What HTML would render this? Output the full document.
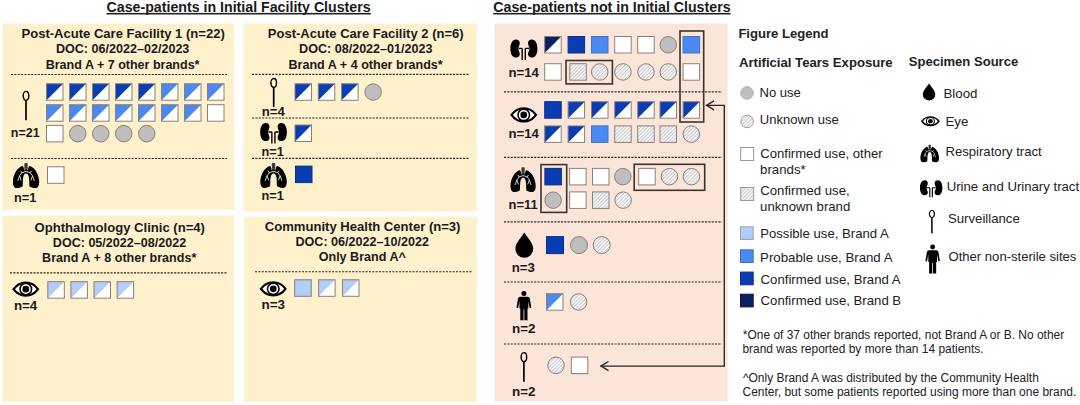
<!DOCTYPE html>
<html><head><meta charset="utf-8"><style>
html,body{margin:0;padding:0;background:#fff;width:1080px;height:405px;overflow:hidden}
svg{display:block;font-family:"Liberation Sans", sans-serif}
</style></head><body>
<svg width="1080" height="405" viewBox="0 0 1080 405">
<defs>
<pattern id="hatch" patternUnits="userSpaceOnUse" width="2.5" height="2.5" patternTransform="rotate(45)">
<rect width="2.5" height="2.5" fill="#f4f4f6"/><rect x="0" y="0" width="0.75" height="2.5" fill="#c4c4c8"/>
</pattern>
</defs>
<rect x="2.5" y="23.5" width="231.5" height="186.5" fill="#fef1cb"/>
<rect x="243.5" y="23.5" width="233.5" height="188" fill="#fef1cb"/>
<rect x="2.5" y="215.5" width="231.5" height="186.5" fill="#fef1cb"/>
<rect x="244" y="216.5" width="233" height="185.5" fill="#fef1cb"/>
<rect x="494.5" y="23.5" width="233" height="378" fill="#fbe4d8"/>
<text x="238.6" y="12.2" font-size="14.2" font-weight="bold" text-anchor="middle" fill="#1a1a1a" >Case-patients in Initial Facility Clusters</text>
<rect x="106.5" y="12.9" width="264.3" height="1.6" fill="#222"/>
<text x="611.9" y="12.2" font-size="14.2" font-weight="bold" text-anchor="middle" fill="#1a1a1a" >Case-patients not in Initial Clusters</text>
<rect x="493.3" y="12.9" width="237.3" height="1.6" fill="#222"/>
<text x="21.49" y="38.2" font-size="13" font-weight="bold" fill="#1a1a1a" textLength="203.26" lengthAdjust="spacingAndGlyphs">Post-Acute Care Facility 1 (n=22)</text>
<text x="55.92" y="53.4" font-size="13" font-weight="bold" fill="#1a1a1a" textLength="133.46" lengthAdjust="spacingAndGlyphs">DOC: 06/2022–02/2023</text>
<text x="45.72" y="68.6" font-size="13" font-weight="bold" fill="#1a1a1a" textLength="153.77" lengthAdjust="spacingAndGlyphs">Brand A + 7 other brands*</text>
<line x1="11" y1="74.5" x2="227" y2="74.5" stroke="#2c2824" stroke-width="1.15" stroke-dasharray="2.1,1.25"/>
<line x1="11" y1="158.5" x2="227" y2="158.5" stroke="#2c2824" stroke-width="1.15" stroke-dasharray="2.1,1.25"/>
<rect x="46.50" y="83.70" width="16.50" height="16.50" fill="#fff"/>
<path d="M46.50,83.70 L63.00,83.70 L46.50,100.20 Z" fill="#0a3db3"/>
<rect x="46.50" y="83.70" width="16.50" height="16.50" fill="none" stroke="#8a8078" stroke-width="1"/>
<rect x="69.50" y="83.70" width="16.50" height="16.50" fill="#fff"/>
<path d="M69.50,83.70 L86.00,83.70 L69.50,100.20 Z" fill="#0a3db3"/>
<rect x="69.50" y="83.70" width="16.50" height="16.50" fill="none" stroke="#8a8078" stroke-width="1"/>
<rect x="92.50" y="83.70" width="16.50" height="16.50" fill="#fff"/>
<path d="M92.50,83.70 L109.00,83.70 L92.50,100.20 Z" fill="#0a3db3"/>
<rect x="92.50" y="83.70" width="16.50" height="16.50" fill="none" stroke="#8a8078" stroke-width="1"/>
<rect x="115.50" y="83.70" width="16.50" height="16.50" fill="#fff"/>
<path d="M115.50,83.70 L132.00,83.70 L115.50,100.20 Z" fill="#0a3db3"/>
<rect x="115.50" y="83.70" width="16.50" height="16.50" fill="none" stroke="#8a8078" stroke-width="1"/>
<rect x="138.50" y="83.70" width="16.50" height="16.50" fill="#fff"/>
<path d="M138.50,83.70 L155.00,83.70 L138.50,100.20 Z" fill="#0a3db3"/>
<rect x="138.50" y="83.70" width="16.50" height="16.50" fill="none" stroke="#8a8078" stroke-width="1"/>
<rect x="161.50" y="83.70" width="16.50" height="16.50" fill="#fff"/>
<path d="M161.50,83.70 L178.00,83.70 L161.50,100.20 Z" fill="#4a88f2"/>
<rect x="161.50" y="83.70" width="16.50" height="16.50" fill="none" stroke="#8a8078" stroke-width="1"/>
<rect x="184.50" y="83.70" width="16.50" height="16.50" fill="#fff"/>
<path d="M184.50,83.70 L201.00,83.70 L184.50,100.20 Z" fill="#4a88f2"/>
<rect x="184.50" y="83.70" width="16.50" height="16.50" fill="none" stroke="#8a8078" stroke-width="1"/>
<rect x="207.50" y="83.70" width="16.50" height="16.50" fill="#fff"/>
<path d="M207.50,83.70 L224.00,83.70 L207.50,100.20 Z" fill="#4a88f2"/>
<rect x="207.50" y="83.70" width="16.50" height="16.50" fill="none" stroke="#8a8078" stroke-width="1"/>
<rect x="46.50" y="104.70" width="16.50" height="16.50" fill="#fff"/>
<path d="M46.50,104.70 L63.00,104.70 L46.50,121.20 Z" fill="#4a88f2"/>
<rect x="46.50" y="104.70" width="16.50" height="16.50" fill="none" stroke="#8a8078" stroke-width="1"/>
<rect x="69.50" y="104.70" width="16.50" height="16.50" fill="#fff"/>
<path d="M69.50,104.70 L86.00,104.70 L69.50,121.20 Z" fill="#4a88f2"/>
<rect x="69.50" y="104.70" width="16.50" height="16.50" fill="none" stroke="#8a8078" stroke-width="1"/>
<rect x="92.50" y="104.70" width="16.50" height="16.50" fill="#fff"/>
<path d="M92.50,104.70 L109.00,104.70 L92.50,121.20 Z" fill="#4a88f2"/>
<rect x="92.50" y="104.70" width="16.50" height="16.50" fill="none" stroke="#8a8078" stroke-width="1"/>
<rect x="115.50" y="104.70" width="16.50" height="16.50" fill="#fff"/>
<path d="M115.50,104.70 L132.00,104.70 L115.50,121.20 Z" fill="#4a88f2"/>
<rect x="115.50" y="104.70" width="16.50" height="16.50" fill="none" stroke="#8a8078" stroke-width="1"/>
<rect x="138.50" y="104.70" width="16.50" height="16.50" fill="#fff"/>
<path d="M138.50,104.70 L155.00,104.70 L138.50,121.20 Z" fill="#4a88f2"/>
<rect x="138.50" y="104.70" width="16.50" height="16.50" fill="none" stroke="#8a8078" stroke-width="1"/>
<rect x="161.50" y="104.70" width="16.50" height="16.50" fill="#fff"/>
<path d="M161.50,104.70 L178.00,104.70 L161.50,121.20 Z" fill="#4a88f2"/>
<rect x="161.50" y="104.70" width="16.50" height="16.50" fill="none" stroke="#8a8078" stroke-width="1"/>
<rect x="184.50" y="104.70" width="16.50" height="16.50" fill="#fff"/>
<path d="M184.50,104.70 L201.00,104.70 L184.50,121.20 Z" fill="#4a88f2"/>
<rect x="184.50" y="104.70" width="16.50" height="16.50" fill="none" stroke="#8a8078" stroke-width="1"/>
<rect x="207.50" y="104.70" width="16.50" height="16.50" fill="#ffffff" stroke="#8a8078" stroke-width="1"/>
<rect x="46.50" y="125.40" width="16.50" height="16.50" fill="#ffffff" stroke="#8a8078" stroke-width="1"/>
<circle cx="77.75" cy="133.65" r="8.25" fill="#bebebe" stroke="#8a8078" stroke-width="1"/>
<circle cx="100.75" cy="133.65" r="8.25" fill="#bebebe" stroke="#8a8078" stroke-width="1"/>
<circle cx="123.75" cy="133.65" r="8.25" fill="#bebebe" stroke="#8a8078" stroke-width="1"/>
<circle cx="146.75" cy="133.65" r="8.25" fill="#bebebe" stroke="#8a8078" stroke-width="1"/>
<g transform="translate(22.5,90.7) scale(1.0000,0.9933)"><ellipse cx="3.5" cy="5.2" rx="2.8" ry="4.5" fill="none" stroke="#000" stroke-width="1.4"/>
<line x1="3.5" y1="9.8" x2="3.5" y2="29.8" stroke="#000" stroke-width="1.7"/></g>
<text x="10.83" y="137" font-size="12.5" font-weight="bold" fill="#1a1a1a" textLength="28.81" lengthAdjust="spacingAndGlyphs">n=21</text>
<g transform="translate(12.9,163.2) scale(1.0115,1.0000)"><rect x="11.4" y="0" width="3.2" height="8" fill="#2a2a2a"/>
<path d="M11.4,1.8 H14.6 M11.4,3.6 H14.6 M11.4,5.4 H14.6" stroke="#777" stroke-width="0.5"/>
<path d="M13,7.2 L11.2,7.2 C10.8,5 10.4,3.2 9.6,2.8 C5,3.8 0.8,10 0.1,17 C-0.3,21.5 0.8,24.8 3.6,24.8 C6.5,24.8 8.6,24 9.4,23.2 C9.8,22.6 9.8,21.5 9.8,20 C9.8,16 10.2,12.8 11,11.6 C11.5,10.8 12.2,10.4 13,10.4 Z" fill="#000"/>
<path d="M13,7.2 L14.8,7.2 C15.2,5 15.6,3.2 16.4,2.8 C21,3.8 25.2,10 25.9,17 C26.3,21.5 25.2,24.8 22.4,24.8 C19.5,24.8 17.4,24 16.6,23.2 C16.2,22.6 16.2,21.5 16.2,20 C16.2,16 15.8,12.8 15,11.6 C14.5,10.8 13.8,10.4 13,10.4 Z" fill="#000"/>
<path d="M13,8.2 L8.8,9.6 L6.6,12.6 L4.8,17.8 M6.6,12.6 L8.2,17.2 M8.8,9.6 L7.5,7.6 M13,8.2 L17.2,9.6 L19.4,12.6 L21.2,17.8 M19.4,12.6 L17.8,17.2 M17.2,9.6 L18.5,7.6" fill="none" stroke="#fff" stroke-width="0.8"/></g>
<rect x="47.50" y="166.80" width="16.50" height="16.50" fill="#ffffff" stroke="#8a8078" stroke-width="1"/>
<text x="14.01" y="201.8" font-size="12.5" font-weight="bold" fill="#1a1a1a" textLength="22.28" lengthAdjust="spacingAndGlyphs">n=1</text>
<text x="267.79" y="38.2" font-size="13" font-weight="bold" fill="#1a1a1a" textLength="195.88" lengthAdjust="spacingAndGlyphs">Post-Acute Care Facility 2 (n=6)</text>
<text x="299.12" y="53.4" font-size="13" font-weight="bold" fill="#1a1a1a" textLength="133.35" lengthAdjust="spacingAndGlyphs">DOC: 08/2022–01/2023</text>
<text x="288.52" y="68.6" font-size="13" font-weight="bold" fill="#1a1a1a" textLength="154.17" lengthAdjust="spacingAndGlyphs">Brand A + 4 other brands*</text>
<line x1="252" y1="74.3" x2="469.5" y2="74.3" stroke="#2c2824" stroke-width="1.15" stroke-dasharray="2.1,1.25"/>
<line x1="252" y1="118" x2="469.5" y2="118" stroke="#2c2824" stroke-width="1.15" stroke-dasharray="2.1,1.25"/>
<line x1="252" y1="158.3" x2="469.5" y2="158.3" stroke="#2c2824" stroke-width="1.15" stroke-dasharray="2.1,1.25"/>
<rect x="295.00" y="83.80" width="16.50" height="16.50" fill="#fff"/>
<path d="M295.00,83.80 L311.50,83.80 L295.00,100.30 Z" fill="#0a3db3"/>
<rect x="295.00" y="83.80" width="16.50" height="16.50" fill="none" stroke="#8a8078" stroke-width="1"/>
<rect x="318.30" y="83.80" width="16.50" height="16.50" fill="#fff"/>
<path d="M318.30,83.80 L334.80,83.80 L318.30,100.30 Z" fill="#0a3db3"/>
<rect x="318.30" y="83.80" width="16.50" height="16.50" fill="none" stroke="#8a8078" stroke-width="1"/>
<rect x="341.60" y="83.80" width="16.50" height="16.50" fill="#fff"/>
<path d="M341.60,83.80 L358.10,83.80 L341.60,100.30 Z" fill="#0a3db3"/>
<rect x="341.60" y="83.80" width="16.50" height="16.50" fill="none" stroke="#8a8078" stroke-width="1"/>
<circle cx="373.15" cy="92.05" r="8.25" fill="#bebebe" stroke="#8a8078" stroke-width="1"/>
<g transform="translate(270.2,77.8) scale(1.0000,0.9800)"><ellipse cx="3.5" cy="5.2" rx="2.8" ry="4.5" fill="none" stroke="#000" stroke-width="1.4"/>
<line x1="3.5" y1="9.8" x2="3.5" y2="29.8" stroke="#000" stroke-width="1.7"/></g>
<text x="261.78" y="116.1" font-size="12.5" font-weight="bold" fill="#1a1a1a" textLength="22.96" lengthAdjust="spacingAndGlyphs">n=4</text>
<g transform="translate(260.2,123) scale(0.9889,0.9773)"><path d="M5.5,0 C2,0 0,4 0,9.5 C0,15 2.2,18.5 5.5,18.5 C8,18.5 9.4,17 9.4,15 C9.4,13 8,12 8,9.5 C8,7 9.4,6 9.4,3.8 C9.4,1.5 8,0 5.5,0 Z" fill="#000"/>
<path d="M21.5,0 C25,0 27,4 27,9.5 C27,15 24.8,18.5 21.5,18.5 C19,18.5 17.6,17 17.6,15 C17.6,13 19,12 19,9.5 C19,7 17.6,6 17.6,3.8 C17.6,1.5 19,0 21.5,0 Z" fill="#000"/>
<path d="M8.3,9.2 L11,9.2 Q11.8,9.2 11.8,10 L11.8,21.1 M18.7,9.2 L15.7,9.2 Q14.9,9.2 14.9,10 L14.9,21.1" fill="none" stroke="#000" stroke-width="1.4"/></g>
<rect x="295.00" y="125.00" width="16.50" height="16.50" fill="#fff"/>
<path d="M295.00,125.00 L311.50,125.00 L295.00,141.50 Z" fill="#0a3db3"/>
<rect x="295.00" y="125.00" width="16.50" height="16.50" fill="none" stroke="#8a8078" stroke-width="1"/>
<text x="261.51" y="155.8" font-size="12.5" font-weight="bold" fill="#1a1a1a" textLength="22.28" lengthAdjust="spacingAndGlyphs">n=1</text>
<g transform="translate(260.3,163.1) scale(1.0192,1.0000)"><rect x="11.4" y="0" width="3.2" height="8" fill="#2a2a2a"/>
<path d="M11.4,1.8 H14.6 M11.4,3.6 H14.6 M11.4,5.4 H14.6" stroke="#777" stroke-width="0.5"/>
<path d="M13,7.2 L11.2,7.2 C10.8,5 10.4,3.2 9.6,2.8 C5,3.8 0.8,10 0.1,17 C-0.3,21.5 0.8,24.8 3.6,24.8 C6.5,24.8 8.6,24 9.4,23.2 C9.8,22.6 9.8,21.5 9.8,20 C9.8,16 10.2,12.8 11,11.6 C11.5,10.8 12.2,10.4 13,10.4 Z" fill="#000"/>
<path d="M13,7.2 L14.8,7.2 C15.2,5 15.6,3.2 16.4,2.8 C21,3.8 25.2,10 25.9,17 C26.3,21.5 25.2,24.8 22.4,24.8 C19.5,24.8 17.4,24 16.6,23.2 C16.2,22.6 16.2,21.5 16.2,20 C16.2,16 15.8,12.8 15,11.6 C14.5,10.8 13.8,10.4 13,10.4 Z" fill="#000"/>
<path d="M13,8.2 L8.8,9.6 L6.6,12.6 L4.8,17.8 M6.6,12.6 L8.2,17.2 M8.8,9.6 L7.5,7.6 M13,8.2 L17.2,9.6 L19.4,12.6 L21.2,17.8 M19.4,12.6 L17.8,17.2 M17.2,9.6 L18.5,7.6" fill="none" stroke="#fff" stroke-width="0.8"/></g>
<rect x="295.50" y="166.10" width="16.50" height="16.50" fill="#0a3db3" stroke="#0a2e8c" stroke-width="1"/>
<text x="261.51" y="199.8" font-size="12.5" font-weight="bold" fill="#1a1a1a" textLength="22.28" lengthAdjust="spacingAndGlyphs">n=1</text>
<text x="34.58" y="232.4" font-size="13" font-weight="bold" fill="#1a1a1a" textLength="170.38" lengthAdjust="spacingAndGlyphs">Ophthalmology Clinic (n=4)</text>
<text x="52.82" y="247.3" font-size="13" font-weight="bold" fill="#1a1a1a" textLength="133.35" lengthAdjust="spacingAndGlyphs">DOC: 05/2022–08/2022</text>
<text x="42.12" y="262.1" font-size="13" font-weight="bold" fill="#1a1a1a" textLength="154.17" lengthAdjust="spacingAndGlyphs">Brand A + 8 other brands*</text>
<line x1="10" y1="272.8" x2="227" y2="272.8" stroke="#2c2824" stroke-width="1.15" stroke-dasharray="2.1,1.25"/>
<g transform="translate(12.6,281.5) scale(0.9852,0.9688)"><path d="M1,7.9 C5,2.3 9,1.1 13.4,1.1 C17.8,1.1 21.8,2.3 25.8,7.9 C21.8,13.5 17.8,14.7 13.4,14.7 C9,14.7 5,13.5 1,7.9 Z" fill="#fff" stroke="#000" stroke-width="2.2" stroke-linejoin="miter"/>
<circle cx="13.4" cy="7.9" r="5.85" fill="none" stroke="#000" stroke-width="1.6"/>
<circle cx="13.4" cy="7.9" r="3.4" fill="#000"/></g>
<rect x="47.80" y="281.70" width="16.50" height="16.50" fill="#fff"/>
<path d="M47.80,281.70 L64.30,281.70 L47.80,298.20 Z" fill="#b3cdf6"/>
<rect x="47.80" y="281.70" width="16.50" height="16.50" fill="none" stroke="#8a8078" stroke-width="1"/>
<rect x="70.90" y="281.70" width="16.50" height="16.50" fill="#fff"/>
<path d="M70.90,281.70 L87.40,281.70 L70.90,298.20 Z" fill="#b3cdf6"/>
<rect x="70.90" y="281.70" width="16.50" height="16.50" fill="none" stroke="#8a8078" stroke-width="1"/>
<rect x="94.00" y="281.70" width="16.50" height="16.50" fill="#fff"/>
<path d="M94.00,281.70 L110.50,281.70 L94.00,298.20 Z" fill="#b3cdf6"/>
<rect x="94.00" y="281.70" width="16.50" height="16.50" fill="none" stroke="#8a8078" stroke-width="1"/>
<rect x="117.10" y="281.70" width="16.50" height="16.50" fill="#fff"/>
<path d="M117.10,281.70 L133.60,281.70 L117.10,298.20 Z" fill="#b3cdf6"/>
<rect x="117.10" y="281.70" width="16.50" height="16.50" fill="none" stroke="#8a8078" stroke-width="1"/>
<text x="13.97" y="309.7" font-size="12.5" font-weight="bold" fill="#1a1a1a" textLength="23.28" lengthAdjust="spacingAndGlyphs">n=4</text>
<text x="264.78" y="231.4" font-size="13" font-weight="bold" fill="#1a1a1a" textLength="195.72" lengthAdjust="spacingAndGlyphs">Community Health Center (n=3)</text>
<text x="295.52" y="246.4" font-size="13" font-weight="bold" fill="#1a1a1a" textLength="133.46" lengthAdjust="spacingAndGlyphs">DOC: 06/2022–10/2022</text>
<text x="318.70" y="261.3" font-size="13" font-weight="bold" fill="#1a1a1a" textLength="87.13" lengthAdjust="spacingAndGlyphs">Only Brand A^</text>
<line x1="255" y1="271.7" x2="472.5" y2="271.7" stroke="#2c2824" stroke-width="1.15" stroke-dasharray="2.1,1.25"/>
<g transform="translate(260,281.2) scale(0.9889,0.9688)"><path d="M1,7.9 C5,2.3 9,1.1 13.4,1.1 C17.8,1.1 21.8,2.3 25.8,7.9 C21.8,13.5 17.8,14.7 13.4,14.7 C9,14.7 5,13.5 1,7.9 Z" fill="#fff" stroke="#000" stroke-width="2.2" stroke-linejoin="miter"/>
<circle cx="13.4" cy="7.9" r="5.85" fill="none" stroke="#000" stroke-width="1.6"/>
<circle cx="13.4" cy="7.9" r="3.4" fill="#000"/></g>
<rect x="294.70" y="279.80" width="16.50" height="16.50" fill="#b3cdf6" stroke="#7c7c88" stroke-width="1"/>
<rect x="318.60" y="279.80" width="16.50" height="16.50" fill="#fff"/>
<path d="M318.60,279.80 L335.10,279.80 L318.60,296.30 Z" fill="#b3cdf6"/>
<rect x="318.60" y="279.80" width="16.50" height="16.50" fill="none" stroke="#8a8078" stroke-width="1"/>
<rect x="342.50" y="279.80" width="16.50" height="16.50" fill="#fff"/>
<path d="M342.50,279.80 L359.00,279.80 L342.50,296.30 Z" fill="#b3cdf6"/>
<rect x="342.50" y="279.80" width="16.50" height="16.50" fill="none" stroke="#8a8078" stroke-width="1"/>
<text x="261.46" y="309.3" font-size="12.5" font-weight="bold" fill="#1a1a1a" textLength="23.49" lengthAdjust="spacingAndGlyphs">n=3</text>
<line x1="504" y1="91.8" x2="722" y2="91.8" stroke="#2c2824" stroke-width="1.15" stroke-dasharray="2.1,1.25"/>
<line x1="504" y1="157.3" x2="722" y2="157.3" stroke="#2c2824" stroke-width="1.15" stroke-dasharray="2.1,1.25"/>
<line x1="504" y1="221.9" x2="722" y2="221.9" stroke="#2c2824" stroke-width="1.15" stroke-dasharray="2.1,1.25"/>
<line x1="504" y1="282" x2="722" y2="282" stroke="#2c2824" stroke-width="1.15" stroke-dasharray="2.1,1.25"/>
<line x1="504" y1="344" x2="722" y2="344" stroke="#2c2824" stroke-width="1.15" stroke-dasharray="2.1,1.25"/>
<g transform="translate(510.4,39.4) scale(1.0000,0.9773)"><path d="M5.5,0 C2,0 0,4 0,9.5 C0,15 2.2,18.5 5.5,18.5 C8,18.5 9.4,17 9.4,15 C9.4,13 8,12 8,9.5 C8,7 9.4,6 9.4,3.8 C9.4,1.5 8,0 5.5,0 Z" fill="#000"/>
<path d="M21.5,0 C25,0 27,4 27,9.5 C27,15 24.8,18.5 21.5,18.5 C19,18.5 17.6,17 17.6,15 C17.6,13 19,12 19,9.5 C19,7 17.6,6 17.6,3.8 C17.6,1.5 19,0 21.5,0 Z" fill="#000"/>
<path d="M8.3,9.2 L11,9.2 Q11.8,9.2 11.8,10 L11.8,21.1 M18.7,9.2 L15.7,9.2 Q14.9,9.2 14.9,10 L14.9,21.1" fill="none" stroke="#000" stroke-width="1.4"/></g>
<text x="508.48" y="76.8" font-size="12.5" font-weight="bold" fill="#1a1a1a" textLength="30.42" lengthAdjust="spacingAndGlyphs">n=14</text>
<rect x="544.70" y="36.50" width="16.50" height="16.50" fill="#fff"/>
<path d="M544.70,36.50 L561.20,36.50 L544.70,53.00 Z" fill="#0b2060"/>
<rect x="544.70" y="36.50" width="16.50" height="16.50" fill="none" stroke="#8a8078" stroke-width="1"/>
<rect x="568.10" y="36.50" width="16.50" height="16.50" fill="#0a3db3" stroke="#0a2e8c" stroke-width="1"/>
<rect x="591.50" y="36.50" width="16.50" height="16.50" fill="#4a88f2" stroke="#3d72d0" stroke-width="1"/>
<rect x="614.70" y="36.50" width="16.50" height="16.50" fill="#ffffff" stroke="#8a8078" stroke-width="1"/>
<rect x="637.70" y="36.50" width="16.50" height="16.50" fill="#ffffff" stroke="#8a8078" stroke-width="1"/>
<circle cx="668.25" cy="44.75" r="8.25" fill="#bebebe" stroke="#8a8078" stroke-width="1"/>
<rect x="683.10" y="36.50" width="16.50" height="16.50" fill="#4a88f2" stroke="#3d72d0" stroke-width="1"/>
<rect x="544.70" y="63.70" width="16.50" height="16.50" fill="#ffffff" stroke="#8a8078" stroke-width="1"/>
<rect x="569.80" y="63.70" width="16.50" height="16.50" fill="url(#hatch)" stroke="#8a8078" stroke-width="1"/>
<circle cx="599.75" cy="71.95" r="8.25" fill="url(#hatch)" stroke="#8a8078" stroke-width="1"/>
<circle cx="622.95" cy="71.95" r="8.25" fill="url(#hatch)" stroke="#8a8078" stroke-width="1"/>
<circle cx="645.95" cy="71.95" r="8.25" fill="url(#hatch)" stroke="#8a8078" stroke-width="1"/>
<circle cx="668.25" cy="71.95" r="8.25" fill="url(#hatch)" stroke="#8a8078" stroke-width="1"/>
<rect x="683.10" y="63.70" width="16.50" height="16.50" fill="#ffffff" stroke="#8a8078" stroke-width="1"/>
<rect x="566.00" y="60.50" width="46.40" height="23.40" fill="none" stroke="#3a3430" stroke-width="1.6"/>
<rect x="680.00" y="31.00" width="23.70" height="91.00" fill="none" stroke="#3a3430" stroke-width="1.6"/>
<g transform="translate(510.5,107.2) scale(0.9889,0.9750)"><path d="M1,7.9 C5,2.3 9,1.1 13.4,1.1 C17.8,1.1 21.8,2.3 25.8,7.9 C21.8,13.5 17.8,14.7 13.4,14.7 C9,14.7 5,13.5 1,7.9 Z" fill="#fff" stroke="#000" stroke-width="2.2" stroke-linejoin="miter"/>
<circle cx="13.4" cy="7.9" r="5.85" fill="none" stroke="#000" stroke-width="1.6"/>
<circle cx="13.4" cy="7.9" r="3.4" fill="#000"/></g>
<text x="508.48" y="137.9" font-size="12.5" font-weight="bold" fill="#1a1a1a" textLength="30.42" lengthAdjust="spacingAndGlyphs">n=14</text>
<rect x="544.70" y="101.70" width="16.50" height="16.50" fill="#0a3db3" stroke="#0a2e8c" stroke-width="1"/>
<rect x="568.10" y="101.70" width="16.50" height="16.50" fill="#fff"/>
<path d="M568.10,101.70 L584.60,101.70 L568.10,118.20 Z" fill="#0a3db3"/>
<rect x="568.10" y="101.70" width="16.50" height="16.50" fill="none" stroke="#8a8078" stroke-width="1"/>
<rect x="591.50" y="101.70" width="16.50" height="16.50" fill="#fff"/>
<path d="M591.50,101.70 L608.00,101.70 L591.50,118.20 Z" fill="#0a3db3"/>
<rect x="591.50" y="101.70" width="16.50" height="16.50" fill="none" stroke="#8a8078" stroke-width="1"/>
<rect x="614.70" y="101.70" width="16.50" height="16.50" fill="#fff"/>
<path d="M614.70,101.70 L631.20,101.70 L614.70,118.20 Z" fill="#0a3db3"/>
<rect x="614.70" y="101.70" width="16.50" height="16.50" fill="none" stroke="#8a8078" stroke-width="1"/>
<rect x="637.70" y="101.70" width="16.50" height="16.50" fill="#fff"/>
<path d="M637.70,101.70 L654.20,101.70 L637.70,118.20 Z" fill="#0a3db3"/>
<rect x="637.70" y="101.70" width="16.50" height="16.50" fill="none" stroke="#8a8078" stroke-width="1"/>
<rect x="660.00" y="101.70" width="16.50" height="16.50" fill="#fff"/>
<path d="M660.00,101.70 L676.50,101.70 L660.00,118.20 Z" fill="#0a3db3"/>
<rect x="660.00" y="101.70" width="16.50" height="16.50" fill="none" stroke="#8a8078" stroke-width="1"/>
<rect x="683.10" y="101.70" width="16.50" height="16.50" fill="#fff"/>
<path d="M683.10,101.70 L699.60,101.70 L683.10,118.20 Z" fill="#0a3db3"/>
<rect x="683.10" y="101.70" width="16.50" height="16.50" fill="none" stroke="#8a8078" stroke-width="1"/>
<rect x="544.70" y="125.90" width="16.50" height="16.50" fill="#fff"/>
<path d="M544.70,125.90 L561.20,125.90 L544.70,142.40 Z" fill="#0a3db3"/>
<rect x="544.70" y="125.90" width="16.50" height="16.50" fill="none" stroke="#8a8078" stroke-width="1"/>
<rect x="568.10" y="125.90" width="16.50" height="16.50" fill="#fff"/>
<path d="M568.10,125.90 L584.60,125.90 L568.10,142.40 Z" fill="#0a3db3"/>
<rect x="568.10" y="125.90" width="16.50" height="16.50" fill="none" stroke="#8a8078" stroke-width="1"/>
<rect x="591.50" y="125.90" width="16.50" height="16.50" fill="#4a88f2" stroke="#3d72d0" stroke-width="1"/>
<rect x="614.70" y="125.90" width="16.50" height="16.50" fill="url(#hatch)" stroke="#8a8078" stroke-width="1"/>
<rect x="637.70" y="125.90" width="16.50" height="16.50" fill="url(#hatch)" stroke="#8a8078" stroke-width="1"/>
<rect x="660.00" y="125.90" width="16.50" height="16.50" fill="url(#hatch)" stroke="#8a8078" stroke-width="1"/>
<circle cx="691.35" cy="134.15" r="8.25" fill="url(#hatch)" stroke="#8a8078" stroke-width="1"/>
<g transform="translate(510.5,167.4) scale(0.9692,0.9920)"><rect x="11.4" y="0" width="3.2" height="8" fill="#2a2a2a"/>
<path d="M11.4,1.8 H14.6 M11.4,3.6 H14.6 M11.4,5.4 H14.6" stroke="#777" stroke-width="0.5"/>
<path d="M13,7.2 L11.2,7.2 C10.8,5 10.4,3.2 9.6,2.8 C5,3.8 0.8,10 0.1,17 C-0.3,21.5 0.8,24.8 3.6,24.8 C6.5,24.8 8.6,24 9.4,23.2 C9.8,22.6 9.8,21.5 9.8,20 C9.8,16 10.2,12.8 11,11.6 C11.5,10.8 12.2,10.4 13,10.4 Z" fill="#000"/>
<path d="M13,7.2 L14.8,7.2 C15.2,5 15.6,3.2 16.4,2.8 C21,3.8 25.2,10 25.9,17 C26.3,21.5 25.2,24.8 22.4,24.8 C19.5,24.8 17.4,24 16.6,23.2 C16.2,22.6 16.2,21.5 16.2,20 C16.2,16 15.8,12.8 15,11.6 C14.5,10.8 13.8,10.4 13,10.4 Z" fill="#000"/>
<path d="M13,8.2 L8.8,9.6 L6.6,12.6 L4.8,17.8 M6.6,12.6 L8.2,17.2 M8.8,9.6 L7.5,7.6 M13,8.2 L17.2,9.6 L19.4,12.6 L21.2,17.8 M19.4,12.6 L17.8,17.2 M17.2,9.6 L18.5,7.6" fill="none" stroke="#fff" stroke-width="0.8"/></g>
<text x="508.50" y="208.9" font-size="12.5" font-weight="bold" fill="#1a1a1a" textLength="29.09" lengthAdjust="spacingAndGlyphs">n=11</text>
<rect x="544.90" y="168.40" width="16.50" height="16.50" fill="#0a3db3" stroke="#0a2e8c" stroke-width="1"/>
<rect x="569.60" y="168.40" width="16.50" height="16.50" fill="#ffffff" stroke="#8a8078" stroke-width="1"/>
<rect x="592.50" y="168.40" width="16.50" height="16.50" fill="#ffffff" stroke="#8a8078" stroke-width="1"/>
<circle cx="622.85" cy="176.65" r="8.25" fill="#bebebe" stroke="#8a8078" stroke-width="1"/>
<rect x="638.70" y="168.40" width="16.50" height="16.50" fill="#ffffff" stroke="#8a8078" stroke-width="1"/>
<circle cx="669.45" cy="176.65" r="8.25" fill="url(#hatch)" stroke="#8a8078" stroke-width="1"/>
<circle cx="691.45" cy="176.65" r="8.25" fill="url(#hatch)" stroke="#8a8078" stroke-width="1"/>
<circle cx="553.15" cy="200.15" r="8.25" fill="#bebebe" stroke="#8a8078" stroke-width="1"/>
<rect x="569.60" y="191.90" width="16.50" height="16.50" fill="#ffffff" stroke="#8a8078" stroke-width="1"/>
<rect x="592.50" y="191.90" width="16.50" height="16.50" fill="url(#hatch)" stroke="#8a8078" stroke-width="1"/>
<circle cx="623.15" cy="200.15" r="8.25" fill="url(#hatch)" stroke="#8a8078" stroke-width="1"/>
<rect x="541.00" y="164.60" width="25.70" height="47.80" fill="none" stroke="#3a3430" stroke-width="1.6"/>
<rect x="634.20" y="164.30" width="70.50" height="26.00" fill="none" stroke="#3a3430" stroke-width="1.6"/>
<g transform="translate(515.4,232.6) scale(0.9889,1.0080)"><path d="M9,0 C7,4 0,10 0,16 A9,9 0 0 0 18,16 C18,10 11,4 9,0 Z" fill="#000"/></g>
<text x="511.77" y="271.8" font-size="12.5" font-weight="bold" fill="#1a1a1a" textLength="23.17" lengthAdjust="spacingAndGlyphs">n=3</text>
<rect x="546.50" y="236.60" width="17.00" height="17.00" fill="#0a3db3" stroke="#0a2e8c" stroke-width="1"/>
<circle cx="579.00" cy="245.10" r="8.50" fill="#bebebe" stroke="#8a8078" stroke-width="1"/>
<circle cx="601.70" cy="245.10" r="8.50" fill="url(#hatch)" stroke="#8a8078" stroke-width="1"/>
<g transform="translate(516.4,291) scale(1.0000,1.0000)"><circle cx="7.5" cy="2.5" r="2.5" fill="#000"/>
<path d="M3.8,5.8 L11.2,5.8 Q13,5.8 13.4,7.6 L14.8,16 Q14.9,17.1 14,17.1 Q13.3,17.1 13.1,16.2 L12,10.2 L11.9,17.6 L11.1,17.6 L11.1,29.3 L7.9,29.3 L7.9,18.6 L7.1,18.6 L7.1,29.3 L3.9,29.3 L3.9,17.6 L3.1,17.6 L3,10.2 L1.9,16.2 Q1.7,17.1 1,17.1 Q0.1,17.1 0.2,16 L1.6,7.6 Q2,5.8 3.8,5.8 Z" fill="#000"/></g>
<text x="511.96" y="332.7" font-size="12.5" font-weight="bold" fill="#1a1a1a" textLength="23.49" lengthAdjust="spacingAndGlyphs">n=2</text>
<rect x="546.50" y="293.70" width="16.50" height="16.50" fill="#fff"/>
<path d="M546.50,293.70 L563.00,293.70 L546.50,310.20 Z" fill="#4a88f2"/>
<rect x="546.50" y="293.70" width="16.50" height="16.50" fill="none" stroke="#8a8078" stroke-width="1"/>
<circle cx="578.65" cy="301.95" r="8.25" fill="url(#hatch)" stroke="#8a8078" stroke-width="1"/>
<g transform="translate(520.4,351.9) scale(1.0000,1.0033)"><ellipse cx="3.5" cy="5.2" rx="2.8" ry="4.5" fill="none" stroke="#000" stroke-width="1.4"/>
<line x1="3.5" y1="9.8" x2="3.5" y2="29.8" stroke="#000" stroke-width="1.7"/></g>
<text x="511.96" y="396.4" font-size="12.5" font-weight="bold" fill="#1a1a1a" textLength="23.49" lengthAdjust="spacingAndGlyphs">n=2</text>
<circle cx="556.05" cy="365.35" r="8.25" fill="url(#hatch)" stroke="#8a8078" stroke-width="1"/>
<rect x="571.30" y="357.10" width="16.50" height="16.50" fill="#ffffff" stroke="#8a8078" stroke-width="1"/>
<path d="M706.5,105.3 L724.3,105.3 L724.3,366.1 L600.5,366.1" fill="none" stroke="#2a2622" stroke-width="1.35"/>
<path d="M714,100.8 L706.5,105.3 L714,109.8" fill="none" stroke="#2a2622" stroke-width="1.35"/>
<path d="M608.5,361.5 L601,366.1 L608.5,370.7" fill="none" stroke="#2a2622" stroke-width="1.35"/>
<text x="738.38" y="37.8" font-size="13" font-weight="bold" fill="#222" textLength="90.18" lengthAdjust="spacingAndGlyphs">Figure Legend</text>
<text x="738.91" y="66.6" font-size="13" font-weight="bold" fill="#222" textLength="153.78" lengthAdjust="spacingAndGlyphs">Artificial Tears Exposure</text>
<text x="908.71" y="66.2" font-size="13" font-weight="bold" fill="#222" textLength="109.51" lengthAdjust="spacingAndGlyphs">Specimen Source</text>
<circle cx="747.00" cy="92.90" r="6.30" fill="#bebebe" stroke="#b4b4b4" stroke-width="1"/>
<text x="759.46" y="96.6" font-size="13" font-weight="normal" fill="#222" textLength="41.38" lengthAdjust="spacingAndGlyphs">No use</text>
<circle cx="747.20" cy="121.40" r="6.30" fill="url(#hatch)" stroke="#a0a0a0" stroke-width="1"/>
<text x="759.76" y="124.2" font-size="13" font-weight="normal" fill="#222" textLength="78.98" lengthAdjust="spacingAndGlyphs">Unknown use</text>
<rect x="740.70" y="147.50" width="13.00" height="13.00" fill="#ffffff" stroke="#999999" stroke-width="1"/>
<text x="760.24" y="158.1" font-size="13" font-weight="normal" fill="#222" textLength="122.38" lengthAdjust="spacingAndGlyphs">Confirmed use, other</text>
<text x="760.11" y="173.8" font-size="13" font-weight="normal" fill="#222" textLength="45.51" lengthAdjust="spacingAndGlyphs">brands*</text>
<rect x="740.70" y="187.50" width="13.00" height="13.00" fill="url(#hatch)" stroke="#999999" stroke-width="1"/>
<text x="760.24" y="195.2" font-size="13" font-weight="normal" fill="#222" textLength="89.45" lengthAdjust="spacingAndGlyphs">Confirmed use,</text>
<text x="760.11" y="210.6" font-size="13" font-weight="normal" fill="#222" textLength="90.19" lengthAdjust="spacingAndGlyphs">unknown brand</text>
<rect x="740.50" y="226.80" width="12.70" height="12.70" fill="#b3cdf6" stroke="#9aa4b8" stroke-width="1"/>
<text x="760.15" y="238.3" font-size="13" font-weight="normal" fill="#222" textLength="128.70" lengthAdjust="spacingAndGlyphs">Possible use, Brand A</text>
<rect x="740.50" y="249.80" width="12.70" height="12.70" fill="#4a88f2" stroke="#3d72d0" stroke-width="1"/>
<text x="760.14" y="262" font-size="13" font-weight="normal" fill="#222" textLength="132.34" lengthAdjust="spacingAndGlyphs">Probable use, Brand A</text>
<rect x="740.50" y="272.10" width="12.70" height="12.70" fill="#0a3db3" stroke="#0a2e8c" stroke-width="1"/>
<text x="760.54" y="284.1" font-size="13" font-weight="normal" fill="#222" textLength="140.04" lengthAdjust="spacingAndGlyphs">Confirmed use, Brand A</text>
<rect x="740.50" y="294.20" width="12.70" height="12.70" fill="#0b2060" stroke="#081848" stroke-width="1"/>
<text x="760.54" y="305.4" font-size="13" font-weight="normal" fill="#222" textLength="140.63" lengthAdjust="spacingAndGlyphs">Confirmed use, Brand B</text>
<g transform="translate(922.8,83.6) scale(0.6944,0.6800)"><path d="M9,0 C7,4 0,10 0,16 A9,9 0 0 0 18,16 C18,10 11,4 9,0 Z" fill="#000"/></g>
<text x="943.44" y="97.8" font-size="13" font-weight="normal" fill="#222" textLength="33.96" lengthAdjust="spacingAndGlyphs">Blood</text>
<g transform="translate(921.2,116.2) scale(0.6852,0.6375)"><path d="M1,7.9 C5,2.3 9,1.1 13.4,1.1 C17.8,1.1 21.8,2.3 25.8,7.9 C21.8,13.5 17.8,14.7 13.4,14.7 C9,14.7 5,13.5 1,7.9 Z" fill="#fff" stroke="#000" stroke-width="2.2" stroke-linejoin="miter"/>
<circle cx="13.4" cy="7.9" r="5.85" fill="none" stroke="#000" stroke-width="1.6"/>
<circle cx="13.4" cy="7.9" r="3.4" fill="#000"/></g>
<text x="945.43" y="126" font-size="13" font-weight="normal" fill="#222" textLength="22.94" lengthAdjust="spacingAndGlyphs">Eye</text>
<g transform="translate(920.4,144.8) scale(0.7154,0.7040)"><rect x="11.4" y="0" width="3.2" height="8" fill="#2a2a2a"/>
<path d="M11.4,1.8 H14.6 M11.4,3.6 H14.6 M11.4,5.4 H14.6" stroke="#777" stroke-width="0.5"/>
<path d="M13,7.2 L11.2,7.2 C10.8,5 10.4,3.2 9.6,2.8 C5,3.8 0.8,10 0.1,17 C-0.3,21.5 0.8,24.8 3.6,24.8 C6.5,24.8 8.6,24 9.4,23.2 C9.8,22.6 9.8,21.5 9.8,20 C9.8,16 10.2,12.8 11,11.6 C11.5,10.8 12.2,10.4 13,10.4 Z" fill="#000"/>
<path d="M13,7.2 L14.8,7.2 C15.2,5 15.6,3.2 16.4,2.8 C21,3.8 25.2,10 25.9,17 C26.3,21.5 25.2,24.8 22.4,24.8 C19.5,24.8 17.4,24 16.6,23.2 C16.2,22.6 16.2,21.5 16.2,20 C16.2,16 15.8,12.8 15,11.6 C14.5,10.8 13.8,10.4 13,10.4 Z" fill="#000"/>
<path d="M13,8.2 L8.8,9.6 L6.6,12.6 L4.8,17.8 M6.6,12.6 L8.2,17.2 M8.8,9.6 L7.5,7.6 M13,8.2 L17.2,9.6 L19.4,12.6 L21.2,17.8 M19.4,12.6 L17.8,17.2 M17.2,9.6 L18.5,7.6" fill="none" stroke="#fff" stroke-width="0.8"/></g>
<text x="945.45" y="156.4" font-size="13" font-weight="normal" fill="#222" textLength="96.32" lengthAdjust="spacingAndGlyphs">Respiratory tract</text>
<g transform="translate(920,180.3) scale(0.8296,0.8091)"><path d="M5.5,0 C2,0 0,4 0,9.5 C0,15 2.2,18.5 5.5,18.5 C8,18.5 9.4,17 9.4,15 C9.4,13 8,12 8,9.5 C8,7 9.4,6 9.4,3.8 C9.4,1.5 8,0 5.5,0 Z" fill="#000"/>
<path d="M21.5,0 C25,0 27,4 27,9.5 C27,15 24.8,18.5 21.5,18.5 C19,18.5 17.6,17 17.6,15 C17.6,13 19,12 19,9.5 C19,7 17.6,6 17.6,3.8 C17.6,1.5 19,0 21.5,0 Z" fill="#000"/>
<path d="M8.3,9.2 L11,9.2 Q11.8,9.2 11.8,10 L11.8,21.1 M18.7,9.2 L15.7,9.2 Q14.9,9.2 14.9,10 L14.9,21.1" fill="none" stroke="#000" stroke-width="1.4"/></g>
<text x="946.65" y="190.9" font-size="13" font-weight="normal" fill="#222" textLength="132.46" lengthAdjust="spacingAndGlyphs">Urine and Urinary tract</text>
<g transform="translate(928.8,209.9) scale(0.8857,0.7867)"><ellipse cx="3.5" cy="5.2" rx="2.8" ry="4.5" fill="none" stroke="#000" stroke-width="1.4"/>
<line x1="3.5" y1="9.8" x2="3.5" y2="29.8" stroke="#000" stroke-width="1.7"/></g>
<text x="947.94" y="223.2" font-size="13" font-weight="normal" fill="#222" textLength="71.88" lengthAdjust="spacingAndGlyphs">Surveillance</text>
<g transform="translate(925.3,244.5) scale(0.9800,0.9900)"><circle cx="7.5" cy="2.5" r="2.5" fill="#000"/>
<path d="M3.8,5.8 L11.2,5.8 Q13,5.8 13.4,7.6 L14.8,16 Q14.9,17.1 14,17.1 Q13.3,17.1 13.1,16.2 L12,10.2 L11.9,17.6 L11.1,17.6 L11.1,29.3 L7.9,29.3 L7.9,18.6 L7.1,18.6 L7.1,29.3 L3.9,29.3 L3.9,17.6 L3.1,17.6 L3,10.2 L1.9,16.2 Q1.7,17.1 1,17.1 Q0.1,17.1 0.2,16 L1.6,7.6 Q2,5.8 3.8,5.8 Z" fill="#000"/></g>
<text x="948.55" y="260.8" font-size="13" font-weight="normal" fill="#222" textLength="127.79" lengthAdjust="spacingAndGlyphs">Other non-sterile sites</text>
<text x="742.86" y="339.4" font-size="12" font-weight="normal" fill="#222" textLength="321.30" lengthAdjust="spacingAndGlyphs">*One of 37 other brands reported, not Brand A or B. No other</text>
<text x="742.38" y="353" font-size="12" font-weight="normal" fill="#222" textLength="241.26" lengthAdjust="spacingAndGlyphs">brand was reported by more than 14 patients.</text>
<text x="742.98" y="382.4" font-size="12" font-weight="normal" fill="#222" textLength="295.83" lengthAdjust="spacingAndGlyphs">^Only Brand A was distributed by the Community Health</text>
<text x="742.50" y="396.3" font-size="12" font-weight="normal" fill="#222" textLength="333.80" lengthAdjust="spacingAndGlyphs">Center, but some patients reported using more than one brand.</text>
</svg>
</body></html>
